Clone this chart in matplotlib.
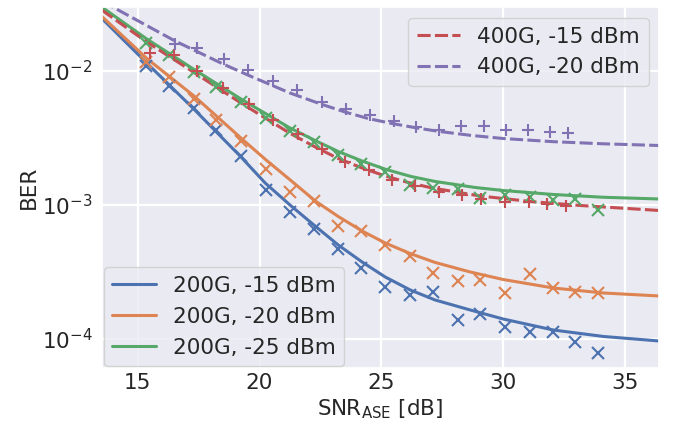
import matplotlib
matplotlib.use("Agg")
import matplotlib.pyplot as plt
import seaborn as sns
from matplotlib.ticker import NullLocator

sns.set_theme(style="darkgrid")
plt.rcParams["font.family"] = ["DejaVu Sans"]
plt.rcParams["mathtext.fontset"] = "dejavusans"

# ---- measured points ----
x_200 = [15.35, 16.30, 17.30, 18.22, 19.25, 20.26, 21.23, 22.24, 23.23, 24.18,
         25.16, 26.17, 27.14, 28.14, 29.03, 30.08, 31.11, 32.05, 32.94, 33.88]
ber_200_15 = [0.01090, 0.007769, 0.005321, 0.003628, 0.002321, 0.001294, 0.0008867,
              0.0006587, 0.0004694, 0.0003370, 0.0002430, 0.0002130, 0.0002254,
              0.0001386, 0.0001529, 0.0001235, 0.0001134, 0.0001134, 0.00009548, 0.00007818]
ber_200_20 = [0.01173, 0.009068, 0.006180, 0.004309, 0.003003, 0.001856, 0.001257,
              0.001062, 0.0006995, 0.0006362, 0.0005028, 0.0004176, 0.0003134,
              0.0002709, 0.0002775, 0.0002193, 0.0003039, 0.0002414, 0.0002254, 0.0002193]
ber_200_25 = [0.01609, 0.01316, 0.009880, 0.007634, 0.005901, 0.004482, 0.003548,
              0.002937, 0.002361, 0.002012, 0.001763, 0.001410, 0.001339, 0.001316,
              0.001128, 0.001194, 0.001138, 0.001090, 0.001105, 0.0009129]

x_400_15 = [15.51, 16.49, 17.42, 18.49, 19.55, 20.54, 21.56, 22.57, 23.51, 24.49,
            25.43, 26.37, 27.35, 28.31, 29.10, 30.08, 31.08, 31.81, 32.59]
ber_400_15 = [0.01362, 0.01310, 0.01000, 0.007428, 0.005702, 0.004287, 0.003399,
              0.002627, 0.002103, 0.001840, 0.001537, 0.001379, 0.001250, 0.001188,
              0.001109, 0.001058, 0.001053, 0.001014, 0.0009863]
x_400_20 = [16.53, 17.44, 18.52, 19.54, 20.56, 21.54, 22.58, 23.55, 24.53, 25.50,
            26.41, 27.37, 28.28, 29.23, 30.12, 31.03, 31.93, 32.66]
ber_400_20 = [0.01590, 0.01492, 0.01233, 0.01023, 0.008449, 0.007213, 0.005870,
              0.005233, 0.004694, 0.004235, 0.003840, 0.003628, 0.003867, 0.003867,
              0.003647, 0.003628, 0.003524, 0.003475]

# ---- fitted curves ----
fx_200_15 = [13.52, 15.37, 17.28, 19.20, 20.23, 21.25, 22.28, 23.23, 24.21, 25.16,
             26.19, 27.21, 28.65, 30.00, 32.06, 34.12, 36.41]
fy_200_15 = [0.02473, 0.01147, 0.005250, 0.002321, 0.001460, 0.001000, 0.0006970,
             0.0005028, 0.0003755, 0.0002902, 0.0002320, 0.0001954, 0.0001646,
             0.0001410, 0.0001167, 0.0001044, 0.00009663]
fx_200_20 = [13.52, 15.37, 17.31, 19.28, 20.27, 21.26, 22.29, 23.23, 24.21, 25.16,
             26.18, 27.21, 28.65, 30.00, 32.06, 34.12, 36.41]
fy_200_20 = [0.02560, 0.01240, 0.006508, 0.003108, 0.002166, 0.001537, 0.001071,
             0.0008208, 0.0006397, 0.0005204, 0.0004345, 0.0003724, 0.0003162,
             0.0002780, 0.0002402, 0.0002204, 0.0002094]
fx_200_25 = [13.52, 15.37, 17.28, 19.27, 21.25, 22.28, 23.23, 24.21, 25.20, 26.22,
             27.21, 28.85, 30.00, 32.06, 34.12, 36.41]
fy_200_25 = [0.03003, 0.01733, 0.01035, 0.006128, 0.003755, 0.003030, 0.002507,
             0.002130, 0.001840, 0.001632, 0.001498, 0.001351, 0.001283, 0.001198,
             0.001142, 0.001109]
fx_400_15 = [13.52, 15.37, 17.28, 19.27, 21.26, 22.29, 23.23, 24.21, 25.16, 26.10,
             27.09, 29.06, 31.11, 33.17, 36.41]
fy_400_15 = [0.02851, 0.01646, 0.009829, 0.005720, 0.003417, 0.002708, 0.002223,
             0.001888, 0.001646, 0.001472, 0.001339, 0.001167, 0.001062, 0.0009915,
             0.0009099]
fx_400_20 = [13.52, 16.53, 18.50, 19.61, 21.25, 22.57, 23.51, 24.46, 25.44, 26.47,
             27.33, 28.65, 30.00, 32.06, 34.12, 36.41]
fy_400_20 = [0.03330, 0.01675, 0.01128, 0.009179, 0.006850, 0.005623, 0.004943,
             0.004419, 0.004056, 0.003755, 0.003548, 0.003312, 0.003135, 0.002968,
             0.002862, 0.002780]

labels = ["200G, -15 dBm", "200G, -20 dBm", "200G, -25 dBm",
          "400G, -15 dBm", "400G, -20 dBm"]
x_ticks = [15, 20, 25, 30, 35]

pal = sns.color_palette("deep")
FS = 15.5
LW = 2.2
DASH = (0, (4.3, 1.4))

fig = plt.figure(figsize=(6.85, 4.24), dpi=100)
ax = fig.add_axes([0.14847, 0.13137, 0.81401, 0.85142])

l1, = ax.plot(fx_200_15, fy_200_15, color=pal[0], lw=LW, label=labels[0])
l2, = ax.plot(fx_200_20, fy_200_20, color=pal[1], lw=LW, label=labels[1])
l3, = ax.plot(fx_200_25, fy_200_25, color=pal[2], lw=LW, label=labels[2])
l4, = ax.plot(fx_400_15, fy_400_15, color=pal[3], lw=LW, ls=DASH, label=labels[3])
l5, = ax.plot(fx_400_20, fy_400_20, color=pal[4], lw=LW, ls=DASH, label=labels[4])

mk = dict(ls="none", ms=9, mew=1.5)
ax.plot(x_200, ber_200_15, "x", color=pal[0], **mk)
ax.plot(x_200, ber_200_20, "x", color=pal[1], **mk)
ax.plot(x_200, ber_200_25, "x", color=pal[2], **mk)
ax.plot(x_400_15, ber_400_15, "+", color=pal[3], **mk)
ax.plot(x_400_20, ber_400_20, "+", color=pal[4], **mk)

ax.set_yscale("log")
ax.set_xlim(13.52, 36.41)
ax.set_ylim(10 ** -4.2187, 10 ** -1.5246)
ax.set_xticks(x_ticks)
ax.yaxis.set_minor_locator(NullLocator())
ax.grid(True, color="white", lw=1.6)
ax.tick_params(labelsize=FS, length=0)
ax.tick_params(axis="x", pad=3.5)
ax.tick_params(axis="y", pad=6.5)
ax.set_xlabel(r"SNR$_{\mathrm{ASE}}$ [dB]", fontsize=FS, labelpad=3)
ax.set_ylabel("BER", fontsize=FS, labelpad=2)

leg1 = ax.legend(handles=[l1, l2, l3], loc="lower left", borderaxespad=0.1, fontsize=FS)
ax.add_artist(leg1)
ax.legend(handles=[l4, l5], loc="upper right", fontsize=FS)

fig.savefig("out.png", dpi=100)
